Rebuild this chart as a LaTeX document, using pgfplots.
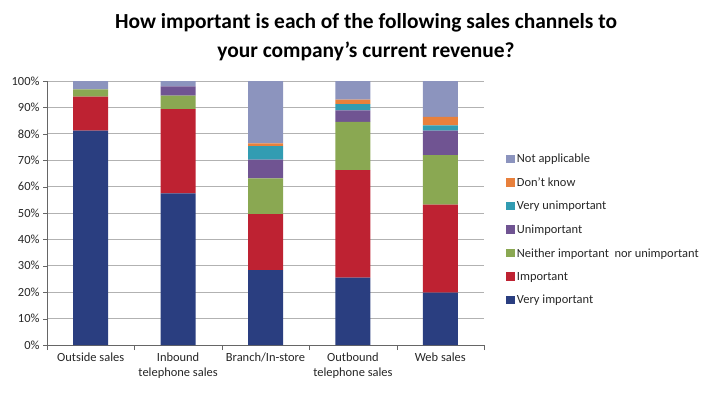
\documentclass[border=0pt]{standalone}
\usepackage{pgfplots}
\pgfplotsset{compat=1.18}
\usepackage{pgfplotstable}
\usepackage{fontspec}
\setmainfont{Carlito}
\definecolor{cVI}{RGB}{42,62,128}
\definecolor{cI}{RGB}{190,34,50}
\definecolor{cN}{RGB}{138,168,82}
\definecolor{cU}{RGB}{112,84,146}
\definecolor{cVU}{RGB}{50,156,178}
\definecolor{cDK}{RGB}{232,128,60}
\definecolor{cNA}{RGB}{140,148,190}
\pgfplotstableread{
x VI I N U VU DK NA
0 81.2 12.9 2.7 0.0 0.0 0.0 3.2
1 57.4 31.9 5.2 3.5 0.0 0.0 2.0
2 28.4 21.2 13.5 7.1 5.1 1.1 23.6
3 25.5 40.7 18.3 4.4 2.3 1.7 7.1
4 19.8 33.4 18.7 9.3 2.0 3.2 13.6
}\datatable
\begin{document}
\begin{tikzpicture}[x=1bp,y=1bp]
\useasboundingbox (0,0) rectangle (715,392);
\node[font=\bfseries\fontsize{21.5}{29}\selectfont, align=center] at (366,355) {How important is each of the following sales channels to\\your company's current revenue?};
\begin{axis}[
  at={(47bp,47bp)}, anchor=south west,
  scale only axis, width=437bp, height=264bp,
  ybar stacked, bar width=35bp,
  xmin=-0.5, xmax=4.5, ymin=0, ymax=100,
  axis lines*=left,
  axis line style={draw=gray!80!black, line width=0.6pt},
  xtick={0,1,2,3,4},
  xticklabels={Outside sales,Inbound\\telephone sales,Branch/In-store,Outbound\\telephone sales,Web sales},
  xticklabel style={align=center, font=\fontsize{12.5}{15}\selectfont, text=black!85},
  major x tick style={draw=none},
  minor xtick={-0.5,0.5,1.5,2.5,3.5,4.5},
  minor tick length=5bp,
  minor x tick style={draw=gray!80!black},
  tick align=outside,
  ytick={0,10,...,100},
  yticklabel={\pgfmathprintnumber{\tick}\%},
  yticklabel style={font=\fontsize{12.5}{15}\selectfont, text=black!85},
  /pgf/number format/assume math mode=true,
  major tick length=4bp,
  major y tick style={draw=gray!80!black},
  ymajorgrids, grid style={draw=gray!60, line width=0.8pt},
  reverse legend,
  legend style={draw=none, fill=none, at={(1.044,0.4375)}, anchor=west,
    font=\fontsize{12.5}{15}\selectfont, text=black!85, row sep=9.5bp,
    /tikz/every even column/.append style={column sep=0bp}},
  legend cell align=left,
  legend image code/.code={\fill[#1, draw=none] (0bp,-4bp) rectangle (8.5bp,4.5bp);},
]
\addplot[fill=cVI, draw=none] table[x=x,y=VI]{\datatable};
\addplot[fill=cI, draw=none] table[x=x,y=I]{\datatable};
\addplot[fill=cN, draw=none] table[x=x,y=N]{\datatable};
\addplot[fill=cU, draw=none] table[x=x,y=U]{\datatable};
\addplot[fill=cVU, draw=none] table[x=x,y=VU]{\datatable};
\addplot[fill=cDK, draw=none] table[x=x,y=DK]{\datatable};
\addplot[fill=cNA, draw=none] table[x=x,y=NA]{\datatable};
\legend{Very important,Important,Neither important\ \ nor unimportant,Unimportant,Very unimportant,Don't know,Not applicable}
\end{axis}
\end{tikzpicture}
\end{document}
